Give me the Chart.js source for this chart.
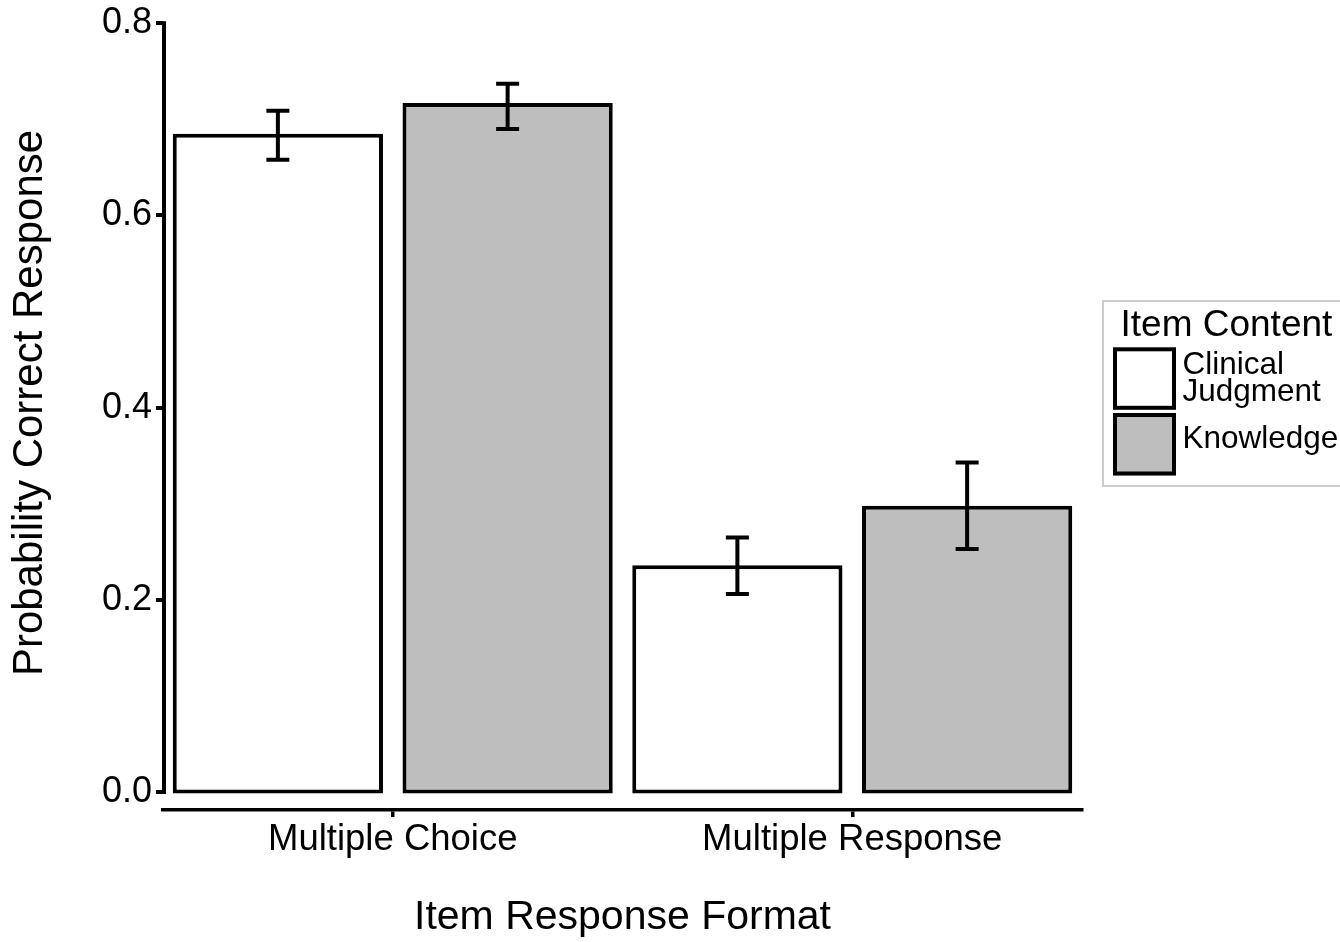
<!DOCTYPE html>
<html>
<head>
<meta charset="utf-8">
<title>Probability Correct Response</title>
<script src="https://cdn.jsdelivr.net/npm/chart.js@4.4.0/dist/chart.umd.min.js"></script>
<style>
  html, body { margin: 0; padding: 0; background: #ffffff; overflow: hidden; }
  canvas { display: block; }
</style>
</head>
<body>
<canvas id="chart-area" width="1340" height="942"></canvas>
<script>
var categories = ['Multiple Choice', 'Multiple Response'];
var clinicalValues = [0.685, 0.236];
var knowledgeValues = [0.717, 0.298];
var clinicalLow = [0.658, 0.206];
var clinicalHigh = [0.709, 0.265];
var knowledgeLow = [0.690, 0.253];
var knowledgeHigh = [0.737, 0.343];
var yTicks = [0, 0.2, 0.4, 0.6, 0.8];
var seriesNames = [['Clinical', 'Judgment'], ['Knowledge']];
var seriesFills = ['#ffffff', '#bebebe'];

var FONT = '"Liberation Sans", Arial, Helvetica, sans-serif';
Chart.defaults.font.family = FONT;
Chart.defaults.color = '#000000';

// error bars drawn on top of the bars
var errorBars = {
    id: 'errorBars',
    afterDatasetsDraw: function (chart) {
        var ctx = chart.ctx;
        var y = chart.scales.y;
        ctx.save();
        ctx.strokeStyle = '#000000';
        ctx.lineWidth = 4;
        chart.data.datasets.forEach(function (ds, i) {
            var meta = chart.getDatasetMeta(i);
            meta.data.forEach(function (bar, j) {
                var top = y.getPixelForValue(ds.errHigh[j]);
                var bot = y.getPixelForValue(ds.errLow[j]);
                ctx.beginPath();
                ctx.moveTo(bar.x, top);
                ctx.lineTo(bar.x, bot);
                ctx.moveTo(bar.x - 11.5, top);
                ctx.lineTo(bar.x + 11.5, top);
                ctx.moveTo(bar.x - 11.5, bot);
                ctx.lineTo(bar.x + 11.5, bot);
                ctx.stroke();
            });
        });
        ctx.restore();
    }
};

// y axis line only over the data range, y title, and the legend
var frame = {
    id: 'frame',
    afterDraw: function (chart) {
        var ctx = chart.ctx;
        var y = chart.scales.y;
        var x0 = chart.chartArea.left;
        ctx.save();
        ctx.strokeStyle = '#000000';
        ctx.lineWidth = 4;
        ctx.beginPath();
        ctx.moveTo(x0 + 1, y.getPixelForValue(yTicks[yTicks.length - 1]) - 2);
        ctx.lineTo(x0 + 1, y.getPixelForValue(yTicks[0]) + 2);
        ctx.stroke();

        // y title
        ctx.save();
        ctx.translate(30, 403);
        ctx.rotate(-Math.PI / 2);
        ctx.font = '42px ' + FONT;
        ctx.fillStyle = '#000000';
        ctx.textAlign = 'center';
        ctx.textBaseline = 'middle';
        ctx.fillText('Probability Correct Response', 0, 0);
        ctx.restore();

        // legend
        ctx.strokeStyle = '#cccccc';
        ctx.lineWidth = 2;
        ctx.strokeRect(1103, 301, 300, 185);
        ctx.fillStyle = '#000000';
        ctx.textAlign = 'left';
        ctx.textBaseline = 'alphabetic';
        ctx.font = '37px ' + FONT;
        ctx.fillText('Item Content', 1120.5, 336);
        ctx.font = '31.5px ' + FONT;
        chart.data.datasets.forEach(function (ds, i) {
            var top = 347.3 + i * 65.7;
            ctx.fillStyle = ds.backgroundColor;
            ctx.fillRect(1113, top, 63, 62.5);
            ctx.strokeStyle = '#000000';
            ctx.lineWidth = 4;
            ctx.strokeRect(1115, top + 2, 59, 58.5);
            ctx.fillStyle = '#000000';
            var lines = ds.label;
            var center = top + 31.2;
            var first = center + 4.2 - (lines.length - 1) * 9;
            lines.forEach(function (t, k) {
                ctx.fillText(t, 1182.5, first + k * 27);
            });
        });
        ctx.restore();
    }
};

var config = {
    type: 'bar',
    data: {
        labels: categories,
        datasets: [{
            label: seriesNames[0],
            data: clinicalValues,
            errLow: clinicalLow,
            errHigh: clinicalHigh,
            backgroundColor: seriesFills[0],
            borderColor: '#000000',
            borderWidth: 4,
            borderSkipped: false
        }, {
            label: seriesNames[1],
            data: knowledgeValues,
            errLow: knowledgeLow,
            errHigh: knowledgeHigh,
            backgroundColor: seriesFills[1],
            borderColor: '#000000',
            borderWidth: 4,
            borderSkipped: false
        }]
    },
    options: {
        responsive: false,
        animation: false,
        categoryPercentage: 1.0,
        barPercentage: 0.915,
        base: -0.0015,
        layout: {
            padding: { top: 23.3, right: 258, bottom: 0, left: 0 }
        },
        plugins: {
            legend: { display: false },
            tooltip: { enabled: false }
        },
        scales: {
            x: {
                grid: {
                    offset: false,
                    drawOnChartArea: false,
                    drawTicks: true,
                    tickLength: 7,
                    lineWidth: 3.5,
                    color: '#000000'
                },
                border: { display: true, color: '#000000', width: 3.5 },
                ticks: {
                    font: { size: 36.5 },
                    padding: 1,
                    maxRotation: 0,
                    autoSkip: false
                },
                title: {
                    display: true,
                    text: 'Item Response Format',
                    font: { size: 41 },
                    padding: { top: 0, bottom: 0 }
                },
                afterFit: function (scale) { scale.height = 132; }
            },
            y: {
                min: -0.0187,
                max: 0.8,
                grid: {
                    drawOnChartArea: false,
                    drawTicks: true,
                    tickLength: 7,
                    lineWidth: 4,
                    color: '#000000'
                },
                border: { display: false },
                ticks: {
                    font: { size: 36, lineHeight: 1.0 },
                    padding: 4,
                    callback: function (v) { return Number(v).toFixed(1); }
                },
                afterBuildTicks: function (scale) {
                    scale.ticks = yTicks.map(function (v) { return { value: v }; });
                },
                afterFit: function (scale) { scale.width = 163; }
            }
        }
    },
    plugins: [errorBars, frame]
};

window.onload = function () {
    var ctx = document.getElementById('chart-area').getContext('2d');
    window.myBar = new Chart(ctx, config);
};
</script>
</body>
</html>
